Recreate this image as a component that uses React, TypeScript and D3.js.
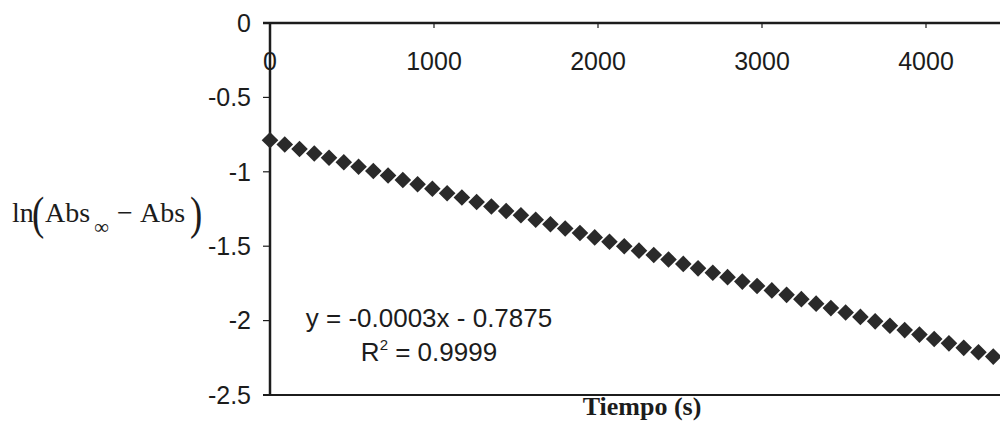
import React from "react";
import * as d3 from "d3";

const times = [
  0, 90, 180, 270, 360, 450, 540, 630, 720, 810, 900, 990, 1080, 1170, 1260,
  1350, 1440, 1530, 1620, 1710, 1800, 1890, 1980, 2070, 2160, 2250, 2340,
  2430, 2520, 2610, 2700, 2790, 2880, 2970, 3060, 3150, 3240, 3330, 3420,
  3510, 3600, 3690, 3780, 3870, 3960, 4050, 4140, 4230, 4320, 4410,
];
const lnValues = [
  -0.788, -0.817, -0.847, -0.877, -0.906, -0.936, -0.966, -0.995, -1.025,
  -1.055, -1.084, -1.114, -1.144, -1.173, -1.203, -1.233, -1.263, -1.292,
  -1.322, -1.352, -1.381, -1.411, -1.441, -1.47, -1.5, -1.53, -1.559, -1.589,
  -1.619, -1.649, -1.678, -1.708, -1.738, -1.767, -1.797, -1.827, -1.856,
  -1.886, -1.916, -1.946, -1.975, -2.005, -2.035, -2.064, -2.094, -2.124,
  -2.153, -2.183, -2.213, -2.242,
];
const xTicks = [0, 1000, 2000, 3000, 4000];
const yTicks = [0, -0.5, -1, -1.5, -2, -2.5];
const equationText = "y = -0.0003x - 0.7875";
const r2Text = "0.9999";
const xTitle = "Tiempo (s)";

export default function App() {
  const x = d3.scaleLinear().domain([0, 4000]).range([270, 926]);
  const y = d3.scaleLinear().domain([-2.5, 0]).range([395, 23]);
  const ink = "#1c1c1c";
  const sans = "'Liberation Sans', Arial, sans-serif";
  const serif = "'Liberation Serif', 'Times New Roman', serif";
  const d = 8.3;
  const diamond = `M0,${-d}L${d},0L0,${d}L${-d},0Z`;
  const fmtY = (v: number) => (v === 0 ? "0" : String(v));
  return (
    <svg
      width={1000}
      height={423}
      style={{ position: "absolute", left: 0, top: 0, background: "#fff" }}
    >
      <rect x={0} y={0} width={1000} height={423} fill="#fff" />
      {/* axes */}
      <line x1={263} x2={1000} y1={y(0)} y2={y(0)} stroke={ink} strokeWidth={2.5} />
      <line x1={263} x2={1000} y1={y(-2.5)} y2={y(-2.5)} stroke={ink} strokeWidth={2.2} />
      <line x1={x(0)} x2={x(0)} y1={y(0)} y2={y(-2.5)} stroke={ink} strokeWidth={2.5} />
      {xTicks.map((t) => (
        <g key={"xt" + t}>
          <line x1={x(t)} x2={x(t)} y1={y(0)} y2={y(0) + 5} stroke={ink} strokeWidth={1.2} />
          <text
            x={x(t)}
            y={70}
            textAnchor="middle"
            fontFamily={sans}
            fontSize={25}
            fill={ink}
          >
            {t}
          </text>
        </g>
      ))}
      {yTicks.map((t) => (
        <g key={"yt" + t}>
          <line x1={263} x2={x(0)} y1={y(t)} y2={y(t)} stroke={ink} strokeWidth={1.2} />
          <text
            x={251}
            y={y(t)}
            dy="0.35em"
            textAnchor="end"
            fontFamily={sans}
            fontSize={25}
            fill={ink}
          >
            {fmtY(t)}
          </text>
        </g>
      ))}
      {/* data */}
      {times.map((t, i) => (
        <path
          key={"p" + i}
          d={diamond}
          transform={`translate(${x(t)},${y(lnValues[i])})`}
          fill="#2a2a2a"
        />
      ))}
      {/* equation */}
      <text x={429} y={327} textAnchor="middle" fontFamily={sans} fontSize={26} fill={ink}>
        {equationText}
      </text>
      <text x={429} y={361} textAnchor="middle" fontFamily={sans} fontSize={26} fill={ink}>
        <tspan>R</tspan>
        <tspan fontSize={15} dy={-11}>2</tspan>
        <tspan dy={11}>{" = " + r2Text}</tspan>
      </text>
      {/* x title */}
      <text
        x={642}
        y={415}
        textAnchor="middle"
        fontFamily={serif}
        fontWeight="bold"
        fontSize={26}
        fill={ink}
      >
        {xTitle}
      </text>
      {/* y title */}
      <g fontFamily={serif} fill={ink}>
        <text x={12} y={222} fontSize={28}>ln</text>
        <text x={0} y={0} fontSize={46} transform="translate(32,229) scale(0.8,1)">(</text>
        <text x={45} y={222} fontSize={28}>Abs</text>
        <text x={94} y={234} fontSize={21}>∞</text>
        <text x={117} y={222} fontSize={28}>−</text>
        <text x={140} y={222} fontSize={28}>Abs</text>
        <text x={0} y={0} fontSize={46} transform="translate(190,229) scale(0.8,1)">)</text>
      </g>
    </svg>
  );
}
